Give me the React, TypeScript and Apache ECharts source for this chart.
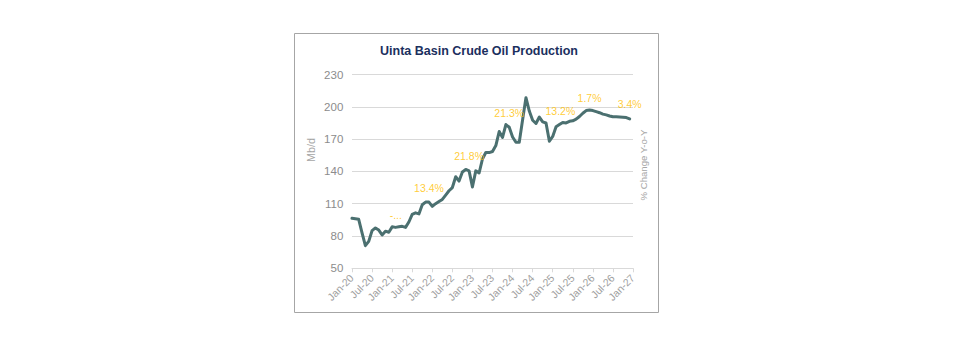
import React, { useEffect, useRef } from "react";
import * as echarts from "echarts";

const MONTHS = ["Jan", "Feb", "Mar", "Apr", "May", "Jun", "Jul", "Aug", "Sep", "Oct", "Nov", "Dec"];
const YEARS = ["20", "21", "22", "23", "24", "25", "26", "27"];
const categories: string[] = [];
for (const y of YEARS) for (const m of MONTHS) categories.push(`${m}-${y}`);
categories.length = 85; // Jan-20 .. Jan-27

// Uinta Basin crude oil production, Mb/d, monthly Jan-20 .. Dec-26
const production = [
  96.5, 96, 95.5, 83, 71, 75, 85, 87.5, 85.5, 81, 84.5, 83.5,
  88.5, 88, 88.5, 89, 88, 93, 100, 101.5, 100.5, 109, 111.5, 111.5,
  107.5, 110, 112, 114, 118, 122, 125, 135, 131, 139.5, 141.8, 140.5,
  125.5, 140.5, 138.5, 151.5, 157.5, 157.5, 158.5, 164, 177, 171.5, 183.5, 181,
  172, 167, 167, 188, 208.5, 196, 187.5, 184.5, 190.5, 186, 185, 168,
  172.5, 181.5, 183.5, 185.5, 185, 186.5, 187, 188.5, 191, 194, 196.5, 197,
  196.5, 195.5, 194.5, 193.2, 192.5, 191.5, 190.7, 190.7, 190.5, 190.3, 190, 188.8,
];

const yTickLabels = [50, 80, 110, 140, 170, 200, 230];

const yoyMonths = ["Dec-20", "Dec-21", "Dec-22", "Dec-23", "Dec-24", "Dec-25", "Dec-26"];
const yoyLabels = ["-...", "13.4%", "21.8%", "21.3%", "13.2%", "1.7%", "3.4%"];

// label nudges (styling only)
const labelNudges: [number, number][] = [[7, -3], [0, 0], [0, 0], [0, 0], [11, -16], [0, 2], [0, 0]];

const FONT = '"Liberation Sans", Arial, sans-serif';

export default function App() {
  const ref = useRef<HTMLDivElement>(null);
  useEffect(() => {
    if (!ref.current) return;
    const chart = echarts.init(ref.current, null, { renderer: "svg" });
    const labelData = yoyMonths.map((m, i) => {
      const idx = categories.indexOf(m);
      return {
        value: [idx, production[idx]],
        name: yoyLabels[i],
        label: { offset: labelNudges[i] },
      };
    });
    chart.setOption({
      animation: false,
      backgroundColor: "#ffffff",
      grid: { left: 352, right: 334, top: 74.5, bottom: 82.7 },
      xAxis: {
        type: "category",
        data: categories,
        boundaryGap: false,
        axisLine: { show: true, lineStyle: { color: "#d9d9d9", width: 1 } },
        axisTick: { show: true, interval: 5, length: 4, lineStyle: { color: "#d9d9d9" } },
        axisLabel: {
          interval: 5,
          rotate: 45,
          color: "#a0a0a0",
          fontSize: 10.5,
          fontFamily: FONT,
          margin: 8,
        },
        splitLine: { show: false },
      },
      yAxis: [
        {
          type: "value",
          min: 50,
          max: 230,
          show: false,
        },
        {
          type: "value",
          min: 0,
          max: 180,
          interval: 30,
          position: "left",
          axisLine: { show: false },
          axisTick: { show: false },
          axisLabel: {
            color: "#8c8c8c",
            fontSize: 11.5,
            fontFamily: FONT,
            margin: 8.7,
            formatter: (v: number) => String(yTickLabels[Math.round(v / 30)]),
          },
          splitLine: { show: true, lineStyle: { color: "#d9d9d9", width: 1 } },
        },
      ],
      series: [
        {
          type: "line",
          name: "Production",
          data: production,
          yAxisIndex: 0,
          showSymbol: false,
          symbol: "none",
          lineStyle: { color: "#4b7070", width: 3, join: "round", cap: "round" },
          z: 3,
        },
        {
          type: "scatter",
          name: "YoY",
          yAxisIndex: 0,
          symbolSize: 0,
          data: labelData,
          label: {
            show: true,
            position: "top",
            distance: 9,
            formatter: (p: any) => p.name,
            color: "#ffc000",
            fontSize: 10.5,
            fontFamily: FONT,
          },
          z: 4,
        },
      ],
      graphic: [
        {
          type: "rect",
          shape: { x: 294.5, y: 33.5, width: 364, height: 279 },
          style: { fill: "none", stroke: "#a6a6a6", lineWidth: 1 },
          silent: true,
        },
        {
          type: "text",
          x: 479,
          y: 50.7,
          style: {
            text: "Uinta Basin Crude Oil Production",
            fill: "#1b2f5e",
            font: `bold 12.5px ${FONT}`,
            align: "center",
            verticalAlign: "middle",
          },
        },
        {
          type: "text",
          x: 310.7,
          y: 150,
          rotation: Math.PI / 2,
          style: {
            text: "Mb/d",
            fill: "#a6a6a6",
            font: `10.8px ${FONT}`,
            align: "center",
            verticalAlign: "middle",
          },
        },
        {
          type: "text",
          x: 643.5,
          y: 165,
          rotation: Math.PI / 2,
          style: {
            text: "% Change Y-o-Y",
            fill: "#a6a6a6",
            font: `9.6px ${FONT}`,
            align: "center",
            verticalAlign: "middle",
          },
        },
      ],
    });
    return () => chart.dispose();
  }, []);
  return (
    <div
      ref={ref}
      style={{ position: "absolute", left: 0, top: 0, width: 967, height: 351 }}
    />
  );
}
